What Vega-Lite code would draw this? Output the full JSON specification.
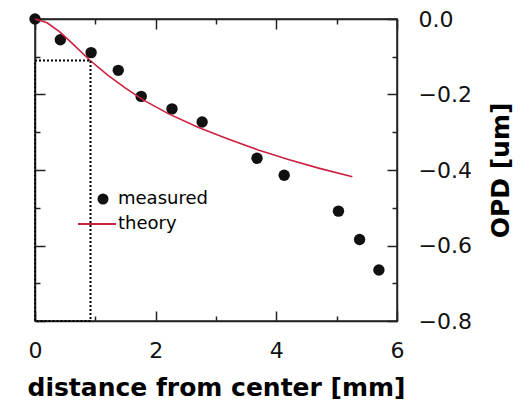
{
  "$schema": "https://vega.github.io/schema/vega-lite/v6.json",
  "width": 362,
  "height": 302,
  "autosize": {"type": "none"},
  "padding": {"left": 35, "top": 19, "right": 132, "bottom": 84},
  "background": "white",
  "config": {
    "view": {"stroke": "#222", "strokeWidth": 1.5},
    "axis": {
      "domainColor": "#222",
      "domainWidth": 1.5,
      "tickColor": "#222",
      "tickWidth": 1.5,
      "grid": false,
      "labelFont": "DejaVu Sans",
      "labelFontSize": 22,
      "labelColor": "#111",
      "titleFont": "DejaVu Sans",
      "titleFontWeight": "bold",
      "titleFontSize": 25,
      "titleColor": "#000"
    },
    "legend": {
      "orient": "none",
      "title": null,
      "padding": 0,
      "labelFont": "DejaVu Sans",
      "labelFontSize": 18,
      "labelColor": "#000"
    }
  },
  "datasets": {
    "measured": [
      {"distance": 0.0, "opd": 0.0, "series": "measured"},
      {"distance": 0.42, "opd": -0.055, "series": "measured"},
      {"distance": 0.93, "opd": -0.089, "series": "measured"},
      {"distance": 1.38, "opd": -0.136, "series": "measured"},
      {"distance": 1.76, "opd": -0.205, "series": "measured"},
      {"distance": 2.27, "opd": -0.238, "series": "measured"},
      {"distance": 2.77, "opd": -0.273, "series": "measured"},
      {"distance": 3.68, "opd": -0.369, "series": "measured"},
      {"distance": 4.13, "opd": -0.414, "series": "measured"},
      {"distance": 5.03, "opd": -0.509, "series": "measured"},
      {"distance": 5.38, "opd": -0.584, "series": "measured"},
      {"distance": 5.70, "opd": -0.665, "series": "measured"}
    ],
    "theory": [
      {"distance": 0.0, "opd": 0.0, "series": "theory"},
      {"distance": 0.2, "opd": -0.010, "series": "theory"},
      {"distance": 0.4, "opd": -0.033, "series": "theory"},
      {"distance": 0.6, "opd": -0.062, "series": "theory"},
      {"distance": 0.9, "opd": -0.108, "series": "theory"},
      {"distance": 1.2, "opd": -0.148, "series": "theory"},
      {"distance": 1.5, "opd": -0.183, "series": "theory"},
      {"distance": 1.8, "opd": -0.215, "series": "theory"},
      {"distance": 2.2, "opd": -0.250, "series": "theory"},
      {"distance": 2.7, "opd": -0.287, "series": "theory"},
      {"distance": 3.2, "opd": -0.318, "series": "theory"},
      {"distance": 3.7, "opd": -0.347, "series": "theory"},
      {"distance": 4.2, "opd": -0.372, "series": "theory"},
      {"distance": 4.7, "opd": -0.395, "series": "theory"},
      {"distance": 5.26, "opd": -0.418, "series": "theory"}
    ],
    "box": [
      {"distance": 0.0, "opd": -0.11, "k": 0},
      {"distance": 0.92, "opd": -0.11, "k": 1},
      {"distance": 0.92, "opd": -0.8, "k": 2},
      {"distance": 0.0, "opd": -0.8, "k": 3},
      {"distance": 0.0, "opd": -0.11, "k": 4}
    ]
  },
  "layer": [
    {
      "data": {"name": "measured"},
      "mark": {"type": "point", "filled": true, "size": 130, "opacity": 1, "color": "#111"},
      "encoding": {
        "x": {
          "field": "distance",
          "type": "quantitative",
          "scale": {"domain": [0, 6], "nice": false, "zero": false},
          "axis": {
            "orient": "bottom",
            "values": [0, 1, 2, 3, 4, 5, 6],
            "labelExpr": "datum.value % 2 === 0 ? datum.label : ''",
            "tickSize": {"condition": {"test": "datum.value % 2 === 0", "value": -10}, "value": -5},
            "labelPadding": 29,
            "labelFlush": false,
            "title": "distance from center [mm]",
            "titlePadding": 14
          }
        },
        "y": {
          "field": "opd",
          "type": "quantitative",
          "scale": {"domain": [-0.8, 0], "nice": false, "zero": false},
          "axis": {
            "orient": "right",
            "values": [-0.8, -0.7, -0.6, -0.5, -0.4, -0.3, -0.2, -0.1, 0],
            "format": ".1f",
            "labelExpr": "round(datum.value * 10) % 2 === 0 ? datum.label : ''",
            "tickSize": {"condition": {"test": "round(datum.value * 10) % 2 === 0", "value": -10}, "value": -5},
            "labelAlign": "left",
            "labelBaseline": "middle",
            "labelPadding": 31,
            "labelFlush": false,
            "title": "OPD [um]",
            "titleAngle": 270,
            "titlePadding": 42
          }
        },
        "shape": {
          "field": "series",
          "type": "nominal",
          "scale": {"domain": ["measured"], "range": ["circle"]},
          "legend": {
            "legendX": 59,
            "legendY": 171,
            "labelOffset": 6,
            "symbolSize": 121,
            "symbolFillColor": "#111",
            "symbolStrokeWidth": 0
          }
        }
      }
    },
    {
      "data": {"name": "theory"},
      "mark": {"type": "line", "strokeWidth": 1.6},
      "encoding": {
        "x": {
          "field": "distance",
          "type": "quantitative",
          "scale": {"domain": [0, 6], "nice": false, "zero": false},
          "axis": {
            "orient": "top",
            "values": [0, 1, 2, 3, 4, 5, 6],
            "labels": false,
            "tickSize": {"condition": {"test": "datum.value % 2 === 0", "value": -10}, "value": -5},
            "title": null
          }
        },
        "y": {
          "field": "opd",
          "type": "quantitative",
          "scale": {"domain": [-0.8, 0], "nice": false, "zero": false},
          "axis": {
            "orient": "left",
            "values": [-0.8, -0.7, -0.6, -0.5, -0.4, -0.3, -0.2, -0.1, 0],
            "labels": false,
            "tickSize": {"condition": {"test": "round(datum.value * 10) % 2 === 0", "value": -10}, "value": -5},
            "title": null
          }
        },
        "color": {
          "field": "series",
          "type": "nominal",
          "scale": {"domain": ["theory"], "range": ["#cc2040"]},
          "legend": {
            "legendX": 42,
            "legendY": 185,
            "labelOffset": 1,
            "symbolType": "stroke",
            "symbolSize": 1444,
            "symbolStrokeWidth": 2
          }
        }
      }
    },
    {
      "data": {"name": "box"},
      "mark": {"type": "line", "color": "#000", "strokeWidth": 2, "strokeDash": [2, 2]},
      "encoding": {
        "x": {"field": "distance", "type": "quantitative", "scale": {"domain": [0, 6], "nice": false, "zero": false}, "axis": null},
        "y": {"field": "opd", "type": "quantitative", "scale": {"domain": [-0.8, 0], "nice": false, "zero": false}, "axis": null},
        "order": {"field": "k", "type": "quantitative"}
      }
    }
  ],
  "resolve": {"axis": {"x": "independent", "y": "independent"}}
}
